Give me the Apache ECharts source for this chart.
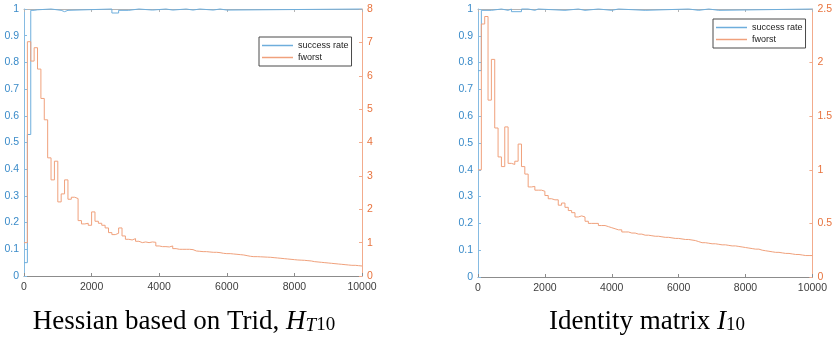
<!DOCTYPE html>
<html><head><meta charset="utf-8">
<script src="https://cdn.jsdelivr.net/npm/echarts@6/dist/echarts.min.js"></script>
<style>html,body{margin:0;padding:0;background:#fff}#c{width:835px;height:351px}</style>
</head><body><div id="c"></div>
<script>
// evaluation counts (x) for fworst series
const evals = [0,100,200,300,400,500,600,700,800,900,1000,1100,1200,1300,1400,1500,1600,1700,1800,1900,
2000,2100,2200,2300,2400,2500,2600,2700,2800,2900,3000,3100,3200,3300,3400,3500,3600,3700,3800,3900,
4000,4100,4200,4300,4400,4500,4600,4700,4800,4900,5000,5100,5200,5300,5400,5500,5600,5700,5800,5900,
6000,6100,6200,6300,6400,6500,6600,6700,6800,6900,7000,7100,7200,7300,7400,7500,7600,7700,7800,7900,
8000,8100,8200,8300,8400,8500,8600,8700,8800,8900,9000,9100,9200,9300,9400,9500,9600,9700,9800,9900,10000];

const fworstLeft = [1.0,7.02,6.44,6.84,6.2,5.32,4.68,3.54,2.88,3.44,
2.22,2.46,2.88,2.3,2.36,2.32,1.66,1.56,1.58,1.52,
1.92,1.64,1.58,1.52,1.44,1.30,1.24,1.28,1.44,1.20,
1.10,1.08,1.12,1.04,1.0,1.02,1.0,1.02,1.01,0.9,
0.88,0.88,0.87,0.9,0.82,0.8,0.8,0.8,0.8,0.79,
0.75,0.74,0.73,0.73,0.72,0.71,0.71,0.70,0.68,0.67,
0.67,0.66,0.65,0.64,0.63,0.61,0.59,0.58,0.58,0.575,
0.57,0.565,0.56,0.55,0.54,0.53,0.52,0.51,0.5,0.49,
0.48,0.475,0.47,0.46,0.45,0.43,0.42,0.41,0.4,0.39,
0.38,0.37,0.36,0.35,0.34,0.33,0.32,0.32,0.31,0.30,0.30];

const fworstRight = [1.0,2.36,2.43,1.65,2.03,1.39,1.12,1.03,1.40,1.06,
1.05,1.08,1.24,1.03,0.96,0.84,0.845,0.81,0.81,0.80,
0.76,0.73,0.72,0.72,0.67,0.69,0.65,0.62,0.60,0.56,
0.57,0.56,0.52,0.50,0.50,0.50,0.48,0.48,0.47,0.46,
0.45,0.44,0.44,0.42,0.42,0.41,0.41,0.40,0.40,0.39,
0.39,0.385,0.38,0.38,0.375,0.37,0.37,0.365,0.36,0.36,
0.355,0.35,0.35,0.345,0.34,0.33,0.32,0.32,0.315,0.31,
0.31,0.305,0.30,0.30,0.295,0.29,0.29,0.285,0.28,0.275,
0.27,0.265,0.26,0.26,0.25,0.245,0.24,0.235,0.23,0.23,
0.225,0.22,0.22,0.215,0.21,0.21,0.205,0.20,0.20,0.20,0.20];

const successLeftX = [0,100,200,300,400,800,1100,1200,1300,2600,2800,3100,3400,3800,4200,4400,4800,5000,5200,5600,5800,6000,10000];
const successLeftY = [0.05,0.53,0.995,0.997,1,0.995,0.99,0.995,1,0.985,0.995,1,0.996,1,0.996,1,0.996,1,0.996,1,0.996,1,1];

const successRightX = [0,100,400,700,900,1000,1300,1500,1700,1800,2600,3000,3200,3600,4000,4200,5000,6300,6600,6900,7200,10000];
const successRightY = [0.77,0.995,1,0.995,1,0.99,1,0.995,1,0.995,1,0.995,1,0.995,1,0.995,1,0.995,1,0.995,1,1];

const xTicks = {min:0, max:10000, interval:2000};
const leftTicks = {min:0, max:1, interval:0.1};
const rightTicksA = {min:0, max:8, interval:1};
const rightTicksB = {min:0, max:2.5, interval:0.5};

const captions = [
  '{a|Hessian based on Trid, }{i|H}{si|T}{s|10}',
  '{a|Identity matrix }{i|I}{s|10}'
];

const BLUE_LINE = '#6eaedc', ORANGE_LINE = '#f0a17c';
const BLUE_AX = '#86bbe2', ORANGE_AX = '#f2ab8c';
const BLUE_TXT = '#3a8bc9', ORANGE_TXT = '#e8733d';
const SANS = 'Liberation Sans, Arial, sans-serif';

function xAx(grid, pos) {
  const top = pos === 'top';
  return Object.assign({
    type:'value', gridIndex:grid, position:pos,
    axisLine:{show:true, onZero:false, lineStyle:{color: top ? '#b4b4b4' : '#8c8c8c', width:1}},
    axisTick:{show:true, inside:true, length:3, lineStyle:{color: top ? '#b4b4b4' : '#8c8c8c'}},
    axisLabel:{show:!top, color:'#3e3e3e', fontSize:10.5, fontFamily:SANS, margin:6, formatter:(v)=>String(v)},
    splitLine:{show:false}
  }, xTicks);
}
function yAx(grid, pos, ticks, lineC, txtC) {
  return Object.assign({
    type:'value', gridIndex:grid, position:pos,
    axisLine:{show:true, onZero:false, lineStyle:{color:lineC, width:1}},
    axisTick:{show:true, inside:true, length:3, lineStyle:{color:lineC}},
    axisLabel:{color:txtC, fontSize:10.5, fontFamily:SANS, margin:5},
    splitLine:{show:false}
  }, ticks);
}
function pairs(xs, ys){ return xs.map((x,i)=>[x, ys[i]]); }
function lineSeries(name, xi, yi, data, color, clip) {
  return {type:'line', name, xAxisIndex:xi, yAxisIndex:yi, step:'end', data,
    showSymbol:false, symbol:'none', clip, animation:false,
    lineStyle:{color, width:1}, itemStyle:{color}};
}
function legend(left, top) {
  return {left, top, orient:'vertical', backgroundColor:'#fff', borderColor:'#4a4a4a', borderWidth:1,
    borderRadius:0, padding:[3,3,3,3], itemGap:1, itemWidth:31, itemHeight:1.5, icon:'rect',
    selectedMode:false,
    textStyle:{fontSize:9, fontFamily:SANS, color:'#222', lineHeight:11},
    data:['success rate','fworst']};
}
const rich = {
  a:{fontFamily:'Liberation Serif', fontSize:27, lineHeight:30, color:'#111', verticalAlign:'bottom'},
  i:{fontFamily:'Liberation Serif', fontSize:27, lineHeight:30, fontStyle:'italic', color:'#111', verticalAlign:'bottom'},
  si:{fontFamily:'Liberation Serif', fontSize:19, lineHeight:14, fontStyle:'italic', color:'#111', verticalAlign:'bottom'},
  s:{fontFamily:'Liberation Serif', fontSize:19, lineHeight:14, color:'#111', verticalAlign:'bottom'}
};

const chart = echarts.init(document.getElementById('c'), null, {renderer:'canvas'});
chart.setOption({
  animation:false,
  backgroundColor:'#fff',
  grid:[
    {left:24, top:9, right:473, bottom:75},
    {left:478, top:9, right:20, bottom:74}
  ],
  xAxis:[xAx(0,'bottom'), xAx(0,'top'), xAx(1,'bottom'), xAx(1,'top')],
  yAxis:[
    yAx(0,'left',leftTicks,BLUE_AX,BLUE_TXT),
    yAx(0,'right',rightTicksA,ORANGE_AX,ORANGE_TXT),
    yAx(1,'left',leftTicks,BLUE_AX,BLUE_TXT),
    yAx(1,'right',rightTicksB,ORANGE_AX,ORANGE_TXT)
  ],
  legend:[legend(259,37), legend(713,19)],
  series:[
    lineSeries('success rate',0,0,pairs(successLeftX,successLeftY),BLUE_LINE,false),
    lineSeries('fworst',0,1,pairs(evals,fworstLeft),ORANGE_LINE,true),
    lineSeries('success rate',2,2,pairs(successRightX,successRightY),BLUE_LINE,false),
    lineSeries('fworst',2,3,pairs(evals,fworstRight),ORANGE_LINE,true)
  ],
  graphic:[
    {type:'text', x:184, y:335, style:{text:captions[0], rich, textAlign:'center', textVerticalAlign:'bottom'}},
    {type:'text', x:647, y:335, style:{text:captions[1], rich, textAlign:'center', textVerticalAlign:'bottom'}}
  ]
});
</script></body></html>
